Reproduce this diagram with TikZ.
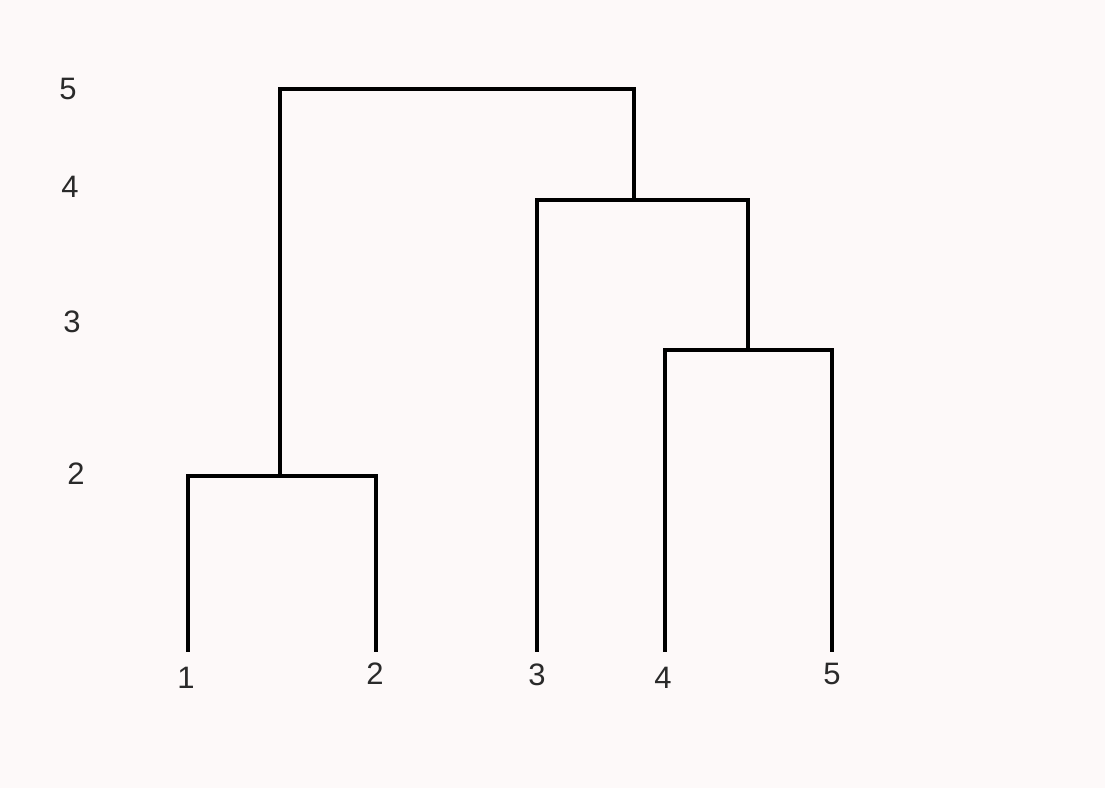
\documentclass[tikz,border=0pt]{standalone}
\usepackage{fontspec}
\setmainfont{Liberation Sans}
\definecolor{bgc}{HTML}{FDF9F9}
\definecolor{txt}{HTML}{2A2A2A}
\begin{document}
\begin{tikzpicture}[x=1pt,y=-1pt,
  lbl/.style={font=\fontsize{31}{34}\selectfont, text=txt, inner sep=0pt},
  branch/.style={line width=3.6pt, black, line cap=rect}]
\fill[bgc] (0,0) rectangle (1105,788);
\useasboundingbox (0,0) rectangle (1105,788);
% leaf ends
\coordinate (l1) at (188,650);
\coordinate (l2) at (376,650);
\coordinate (l3) at (537,650);
\coordinate (l4) at (665,650);
\coordinate (l5) at (832,650);
% merge levels
\coordinate (a1) at (188,476);
\coordinate (a2) at (376,476);
\coordinate (am) at (280,476);
\coordinate (c4) at (665,350);
\coordinate (c5) at (832,350);
\coordinate (cm) at (748,350);
\coordinate (b3) at (537,200);
\coordinate (bc) at (748,200);
\coordinate (bm) at (634,200);
\coordinate (ta) at (280,89);
\coordinate (tb) at (634,89);
% branches
\draw[branch] (l1) -- (a1) -- (a2) -- (l2);
\draw[branch] (l4) -- (c4) -- (c5) -- (l5);
\draw[branch] (l3) -- (b3) -- (bc) -- (cm);
\draw[branch] (am) -- (ta) -- (tb) -- (bm);
% leaf labels
\node[lbl] (n1) at (186,678) {1};
\node[lbl] (n2) at (375,674) {2};
\node[lbl] (n3) at (537,675) {3};
\node[lbl] (n4) at (663,678) {4};
\node[lbl] (n5) at (832,674) {5};
% axis labels
\node[lbl] (h5) at (68,89) {5};
\node[lbl] (h4) at (70,187) {4};
\node[lbl] (h3) at (72,322) {3};
\node[lbl] (h2) at (76,474) {2};
\end{tikzpicture}
\end{document}
